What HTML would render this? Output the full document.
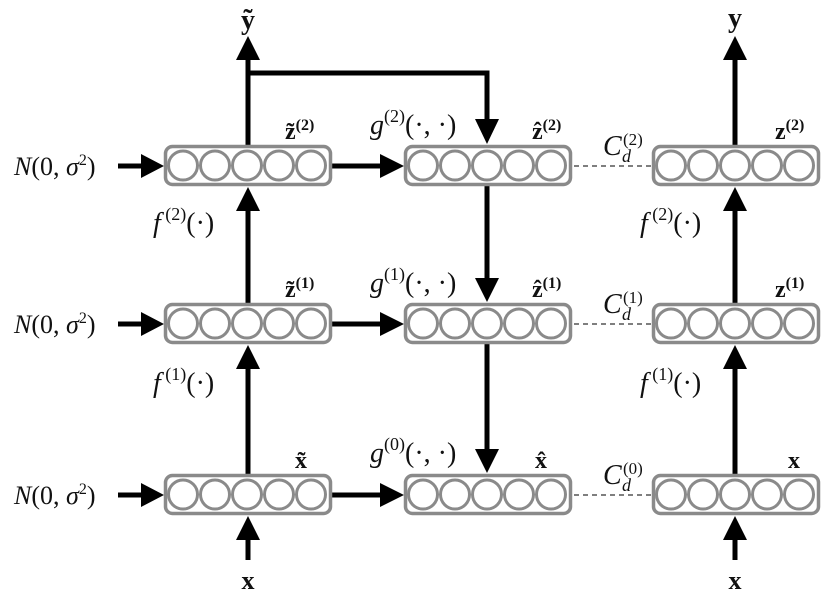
<!DOCTYPE html>
<html><head><meta charset="utf-8"><style>
html,body{margin:0;padding:0;background:#fff;}
svg{display:block;}
text{font-family:"Liberation Serif",serif;fill:#111;}
.it{font-style:italic;}
.b{font-weight:bold;}
</style></head><body>
<svg width="827" height="597" viewBox="0 0 827 597" xmlns="http://www.w3.org/2000/svg">
<defs>
<g id="box">
<rect x="1.5" y="1.5" width="165" height="38" rx="7" fill="#fff" stroke="#8a8a8a" stroke-width="3.5"/>
<circle cx="19" cy="20.5" r="14.5" fill="none" stroke="#8a8a8a" stroke-width="3"/>
<circle cx="51" cy="20.5" r="14.5" fill="none" stroke="#8a8a8a" stroke-width="3"/>
<circle cx="83" cy="20.5" r="14.5" fill="none" stroke="#8a8a8a" stroke-width="3"/>
<circle cx="115" cy="20.5" r="14.5" fill="none" stroke="#8a8a8a" stroke-width="3"/>
<circle cx="147" cy="20.5" r="14.5" fill="none" stroke="#8a8a8a" stroke-width="3"/>
</g>
</defs>
<g stroke="#000" stroke-width="5" fill="none">
<line x1="248" y1="145" x2="248" y2="58"/>
<line x1="248" y1="303" x2="248" y2="205"/>
<line x1="248" y1="474" x2="248" y2="362"/>
<line x1="248" y1="560" x2="248" y2="535"/>
<polyline points="248,73 487,73 487,122"/>
<line x1="487" y1="186" x2="487" y2="282"/>
<line x1="487" y1="344" x2="487" y2="453"/>
<line x1="332" y1="166" x2="385" y2="166"/>
<line x1="332" y1="324" x2="385" y2="324"/>
<line x1="332" y1="495" x2="385" y2="495"/>
<line x1="118" y1="166" x2="145" y2="166"/>
<line x1="118" y1="324" x2="145" y2="324"/>
<line x1="118" y1="495" x2="145" y2="495"/>
<line x1="735" y1="145" x2="735" y2="58"/>
<line x1="735" y1="303" x2="735" y2="205"/>
<line x1="735" y1="474" x2="735" y2="362"/>
<line x1="735" y1="560" x2="735" y2="535"/>
</g>
<g stroke="#555" stroke-width="1.5" stroke-dasharray="5,4">
<line x1="574" y1="166" x2="652" y2="166"/>
<line x1="574" y1="324" x2="652" y2="324"/>
<line x1="574" y1="495" x2="652" y2="495"/>
</g>
<g fill="#000">
<polygon points="248,36 236,60 260,60"/>
<polygon points="248,187 236,211 260,211"/>
<polygon points="248,345 236,369 260,369"/>
<polygon points="248,516 236,540 260,540"/>
<polygon points="735,36 723,60 747,60"/>
<polygon points="735,187 723,211 747,211"/>
<polygon points="735,345 723,369 747,369"/>
<polygon points="735,516 723,540 747,540"/>
<polygon points="487,144 475,119 499,119"/>
<polygon points="487,302 475,278 499,278"/>
<polygon points="487,473 475,449 499,449"/>
<polygon points="404,166 380,154 380,178"/>
<polygon points="404,324 380,312 380,336"/>
<polygon points="404,495 380,483 380,507"/>
<polygon points="164,166 141,154 141,178"/>
<polygon points="164,324 141,312 141,336"/>
<polygon points="164,495 141,483 141,507"/>
</g>
<use href="#box" x="164" y="145"/>
<use href="#box" x="164" y="303"/>
<use href="#box" x="164" y="474"/>
<use href="#box" x="404" y="145"/>
<use href="#box" x="404" y="303"/>
<use href="#box" x="404" y="474"/>
<use href="#box" x="652" y="145"/>
<use href="#box" x="652" y="303"/>
<use href="#box" x="652" y="474"/>
<text x="248" y="29" font-size="28" class="b" text-anchor="middle">ỹ</text>
<text x="735" y="27" font-size="28" class="b" text-anchor="middle">y</text>
<text x="248" y="589" font-size="26" class="b" text-anchor="middle">x</text>
<text x="735" y="589" font-size="26" class="b" text-anchor="middle">x</text>

<text x="285" y="139" font-size="24" class="b">z̃<tspan font-size="16" dy="-9">(2)</tspan></text>
<text x="285" y="297" font-size="24" class="b">z̃<tspan font-size="16" dy="-9">(1)</tspan></text>
<text x="295" y="468" font-size="24" class="b">x̃</text>
<text x="532" y="139" font-size="24" class="b">ẑ<tspan font-size="16" dy="-9">(2)</tspan></text>
<text x="532" y="297" font-size="24" class="b">ẑ<tspan font-size="16" dy="-9">(1)</tspan></text>
<text x="535" y="468" font-size="24" class="b">x̂</text>
<text x="775" y="139" font-size="24" class="b">z<tspan font-size="16" dy="-9">(2)</tspan></text>
<text x="775" y="297" font-size="24" class="b">z<tspan font-size="16" dy="-9">(1)</tspan></text>
<text x="788" y="468" font-size="24" class="b">x</text>

<g font-size="28">
<text x="370" y="134"><tspan class="it">g</tspan><tspan font-size="18" dy="-12">(2)</tspan><tspan dy="12">(·, ·)</tspan></text>
<text x="370" y="292"><tspan class="it">g</tspan><tspan font-size="18" dy="-12">(1)</tspan><tspan dy="12">(·, ·)</tspan></text>
<text x="370" y="462"><tspan class="it">g</tspan><tspan font-size="18" dy="-12">(0)</tspan><tspan dy="12">(·, ·)</tspan></text>
<text x="153" y="232"><tspan class="it">f</tspan><tspan font-size="18" dy="-12"> (2)</tspan><tspan dy="12">(·)</tspan></text>
<text x="153" y="392"><tspan class="it">f</tspan><tspan font-size="18" dy="-12"> (1)</tspan><tspan dy="12">(·)</tspan></text>
<text x="640" y="232"><tspan class="it">f</tspan><tspan font-size="18" dy="-12"> (2)</tspan><tspan dy="12">(·)</tspan></text>
<text x="640" y="392"><tspan class="it">f</tspan><tspan font-size="18" dy="-12"> (1)</tspan><tspan dy="12">(·)</tspan></text>
<text x="603" y="155" class="it">C</text><text x="623" y="145" font-size="17">(2)</text><text x="622" y="162" font-size="18" class="it">d</text>
<text x="603" y="313" class="it">C</text><text x="623" y="303" font-size="17">(1)</text><text x="622" y="320" font-size="18" class="it">d</text>
<text x="603" y="484" class="it">C</text><text x="623" y="474" font-size="17">(0)</text><text x="622" y="491" font-size="18" class="it">d</text>
</g>
<g font-size="26">
<text x="14" y="175"><tspan class="it">N</tspan>(0, <tspan class="it">σ</tspan><tspan font-size="16" dy="-10">2</tspan><tspan dy="10">)</tspan></text>
<text x="14" y="333"><tspan class="it">N</tspan>(0, <tspan class="it">σ</tspan><tspan font-size="16" dy="-10">2</tspan><tspan dy="10">)</tspan></text>
<text x="14" y="504"><tspan class="it">N</tspan>(0, <tspan class="it">σ</tspan><tspan font-size="16" dy="-10">2</tspan><tspan dy="10">)</tspan></text>
</g>
</svg>
</body></html>
